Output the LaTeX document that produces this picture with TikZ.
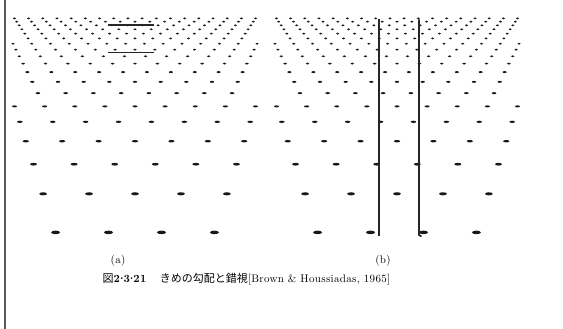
\documentclass[tikz,border=0pt]{standalone}
\usepackage{fontspec}
\newfontfamily\jpfont{Noto Sans CJK JP}
\newfontfamily\capfont[LetterSpace=3]{Latin Modern Roman}
\tikzset{
  dotmark/.style={fill=black!90},
  testline/.style={draw=black!85, line width=1.7pt},
  lbl/.style={inner sep=0pt, font=\fontsize{11}{13}\capfont},
}
\newcommand{\cdotr}{\raisebox{0.28em}{.}}
\begin{document}
\begin{tikzpicture}[x=1pt,y=-1pt]
\useasboundingbox (0,0) rectangle (563,329);
\fill[white] (0,0) rectangle (563,329);
\draw[black!65, line width=1.8pt] (5,0) -- (5,329);
% texture gradient fields
\foreach \cx in {135,397} {
  \foreach \n in {0,...,18} {
    \pgfmathsetmacro\yy{1/(0.003413+0.000515*\n)-60}
    \pgfmathsetmacro\ss{0.181*(\yy+60)}
    \pgfmathsetmacro\off{0.5*(1-mod(\n,2))}
    \pgfmathsetmacro\rx{max(0.085*\ss,1.6)}
    \pgfmathsetmacro\ry{max(0.034*\ss,1.0)}
    \foreach \k in {-10,...,10} {
      \pgfmathsetmacro\dx{(\k+\off)*\ss}
      \pgfmathtruncatemacro\ok{abs(\dx)<=124 ? 1 : 0}
      \ifnum\ok=1
        \fill[dotmark] (\cx+\dx,\yy) ellipse [x radius=\rx, y radius=\ry];
      \fi
    }
  }
}
% (a) horizontal test lines
\draw[testline] (108,25) -- (154,25);
\draw[testline] (108,52.5) -- (154,52.5);
% (b) vertical test lines
\draw[testline] (379,19.5) -- (379,236);
\draw[testline] (419,19.5) -- (419,235) -- (421.5,236.5);
% labels
\node[lbl] (la) at (118,261) {(a)};
\node[lbl] (lb) at (383,261) {(b)};
\node[lbl] (cap) at (246.5,279) {{\jpfont\fontsize{11}{13}\selectfont 図}\textbf{2\cdotr3\cdotr21}\hspace{1.2em}{\jpfont\fontsize{11}{13}\selectfont きめの勾配と錯視}[Brown \& Houssiadas, 1965]};
\end{tikzpicture}
\end{document}
